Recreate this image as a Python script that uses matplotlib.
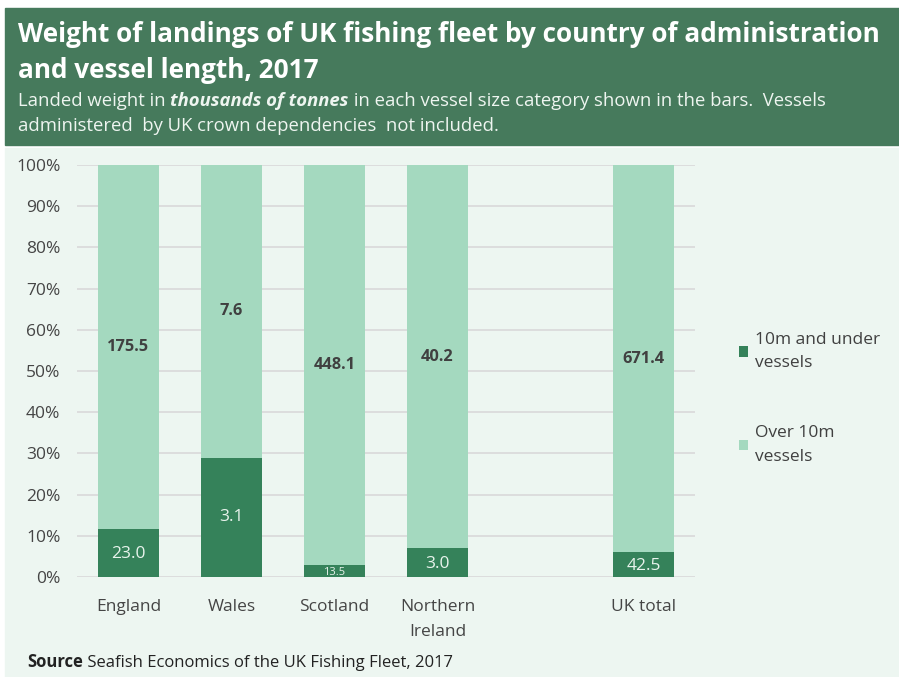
import matplotlib
matplotlib.use("Agg")
import matplotlib.pyplot as plt
from matplotlib.patches import Rectangle
import numpy as np

categories = ["England", "Wales", "Scotland", "Northern\nIreland", "UK total"]
positions = [0, 1, 2, 3, 5]
under10 = [23.0, 3.1, 13.5, 3.0, 42.5]
over10 = [175.5, 7.6, 448.1, 40.2, 671.4]
series_names = ["10m and under\nvessels", "Over 10m\nvessels"]
yticks = [0, 10, 20, 30, 40, 50, 60, 70, 80, 90, 100]

DARK = "#35825a"
LIGHT = "#a4d9bf"
HEADER = "#467a5c"
BG = "#edf6f1"
TXT = "#454545"

plt.rcParams['font.family'] = ['Open Sans', 'DejaVu Sans']

W, H = 899, 677
fig = plt.figure(figsize=(W / 100, H / 100), dpi=100)
fig.patch.set_facecolor("white")

def fx(px):
    return px / W

def fy(py):
    return 1 - py / H

# header and body backgrounds
fig.patches.append(Rectangle((fx(5), fy(145)), 1 - fx(5), fy(8) - fy(145),
                             transform=fig.transFigure, color=HEADER, zorder=-10))
fig.patches.append(Rectangle((fx(5), 0), 1 - fx(5), fy(148),
                             transform=fig.transFigure, color=BG, zorder=-10))

fig.text(fx(18), fy(42), "Weight of landings of UK fishing fleet by country of administration",
         color="white", fontsize=18.8, fontweight="bold", va="baseline", ha="left")
fig.text(fx(18), fy(78), "and vessel length, 2017",
         color="white", fontsize=18.8, fontweight="bold", va="baseline", ha="left")

renderer = fig.canvas.get_renderer()

def run_text(x_px, y_px, pieces, fontsize, color):
    x = fx(x_px)
    for s, kw in pieces:
        t = fig.text(x, fy(y_px), s, color=color, fontsize=fontsize, va="baseline",
                     ha="left", **kw)
        bb = t.get_window_extent(renderer=renderer)
        x = x + bb.width / W
    return x

sub_col = "#eef5f0"
run_text(18, 106, [("Landed weight in ", {}),
                   ("thousands of tonnes", {"fontweight": "bold", "fontstyle": "italic"}),
                   (" in each vessel size category shown in the bars.  Vessels", {})],
         13.3, sub_col)
run_text(18, 131, [("administered  by UK crown dependencies  not included.", {})], 13.3, sub_col)

run_text(27, 667, [("Source", {"fontweight": "bold"}),
                   (" Seafish Economics of the UK Fishing Fleet, 2017", {})], 12, "#222222")

ax = fig.add_axes([fx(77), fy(577), fx(695) - fx(77), fy(165) - fy(577)])
ax.set_facecolor("none")
ax.set_zorder(2)

under = np.array(under10)
over = np.array(over10)
tot = under + over
pu = under / tot * 100
po = over / tot * 100

bw = 0.585
ax.bar(positions, pu, width=bw, color=DARK, label=series_names[0], zorder=3)
ax.bar(positions, po, bottom=pu, width=bw, color=LIGHT, label=series_names[1], zorder=3)

for p, a, b, u, o in zip(positions, pu, po, under10, over10):
    ax.text(p, a + b / 2, f"{o:.1f}", ha="center", va="center", fontsize=11.8,
            fontweight="bold", color="#404040", zorder=4)
    if a < 5:
        ax.text(p, a / 2 - 0.3, f"{u:.1f}", ha="center", va="center", fontsize=8,
                color="#e8f3ec", zorder=4)
    else:
        ax.text(p, a / 2 if a > 15 else a / 2 - 0.2, f"{u:.1f}", ha="center", va="center",
                fontsize=12.5, color="#e8f3ec", zorder=4)

ax.set_xlim(-0.5, 5.5)
ax.set_ylim(0, 100)
ax.set_yticks(yticks)
ax.set_yticklabels([f"{v}%" for v in yticks])
ax.set_xticks(positions)
ax.set_xticklabels(categories)
ax.grid(axis="y", color="#d9d9d9", linewidth=1.2, zorder=0)
ax.set_axisbelow(True)
for s in ax.spines.values():
    s.set_visible(False)
ax.tick_params(axis="both", length=0, labelsize=12.5, labelcolor=TXT)
ax.tick_params(axis="y", pad=12)
ax.tick_params(axis="x", pad=16)
for lab in ax.get_xticklabels():
    lab.set_linespacing(1.75)

# legend
h, l = ax.get_legend_handles_labels()
leg = fig.legend(h, l, loc="upper left", bbox_to_anchor=(fx(723), fy(316)),
                 frameon=False, fontsize=12.5, labelcolor="#404040",
                 handlelength=0.55, handleheight=0.55, handletextpad=0.4,
                 labelspacing=3.1)
for t in leg.get_texts():
    t.set_linespacing(1.65)

fig.savefig("out.png", dpi=100, facecolor=fig.get_facecolor())
